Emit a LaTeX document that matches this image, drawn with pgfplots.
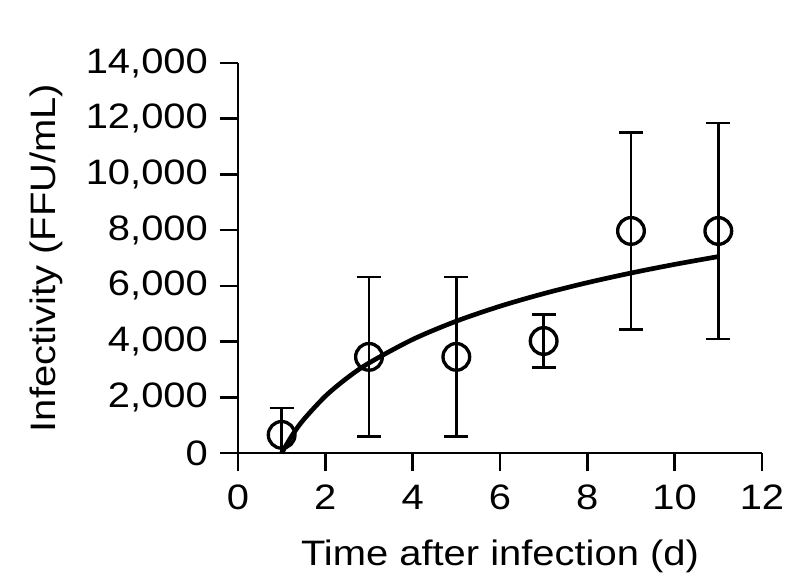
\documentclass[border=0pt]{standalone}
\usepackage{pgfplots}
\pgfplotsset{compat=1.18}
\usepackage{fontspec}
\setmainfont{Liberation Sans}[FakeStretch=1.13]
\begin{document}
\begin{tikzpicture}
\begin{axis}[
  width=157.2pt, height=117pt, scale only axis,
  xmin=0, xmax=12, ymin=0, ymax=14000,
  xtick={0,2,...,12}, ytick={0,2000,...,14000},
  axis x line*=bottom, axis y line*=left,
  tick align=outside, major tick length=5.5pt,
  every tick/.style={black, line width=0.8pt},
  axis line style={line width=0.8pt},
  /pgf/number format/assume math mode=true,
  /pgf/number format/1000 sep={,},
  scaled y ticks=false,
  tick label style={font=\fontsize{10.6}{13}\selectfont},
  xticklabel style={yshift=-0.6pt},
  label style={font=\fontsize{10.6}{13}\selectfont},
  xlabel={Time after infection (d)},
  ylabel={Infectivity (FFU/mL)},
  xlabel style={yshift=-2pt},
  ylabel style={yshift=0pt},
  clip=false,
]
\coordinate (O) at (rel axis cs:0,0);
\addplot[black, line width=1.4pt, smooth] coordinates {
(1,0) (1.25,656) (1.5,1192) (2,2038) (2.5,2694) (3,3230) (4,4076) (5,4732) (6,5268) (7,5721) (8,6114) (9,6460) (10,6770) (11,7050)};
\addplot[black, line width=0.8pt, only marks, mark=o,
  mark size=4pt, mark options={fill=white, line width=1pt},
  error bars/.cd, y dir=both, y explicit,
  error bar style={line width=0.8pt},
  error mark options={rotate=90, mark size=3.6pt, line width=0.8pt}]
coordinates {
(1,650) += (0,970) -= (0,650)
(3,3450) +- (0,2870)
(5,3450) +- (0,2870)
(7,4020) +- (0,940)
(9,7970) +- (0,3530)
(11,7970) +- (0,3880)
};
\end{axis}
\pgfresetboundingbox
\useasboundingbox (O) ++(-71.4pt,-39.6pt) rectangle ++(236.7pt,175.5pt);
\end{tikzpicture}
\end{document}
